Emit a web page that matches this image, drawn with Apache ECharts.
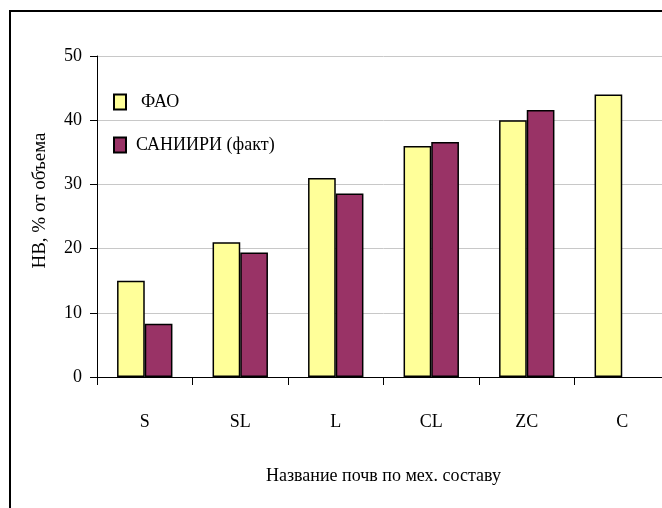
<!DOCTYPE html>
<html>
<head>
<meta charset="utf-8">
<style>
  html, body { margin: 0; padding: 0; background: #fff; overflow: hidden; width: 662px; height: 508px; }
  /* the drawing is a little wider than the window; its right edge is clipped */
  #chart { width: 670px; height: 508px; }
</style>
<script src="https://cdn.jsdelivr.net/npm/echarts@6/dist/echarts.min.js"></script>
</head>
<body>
<div id="chart"></div>
<script>
// Soil texture classes
const categories = ['S', 'SL', 'L', 'CL', 'ZC', 'C'];
// Field capacity (НВ), % of volume
const faoValues = [15, 21, 31, 36, 40, 44];
const saniiriValues = [8.3, 19.4, 28.6, 36.6, 41.6, null];
const seriesNames = ['ФАО', 'САНИИРИ (факт)'];
const yTicks = { min: 0, max: 50, interval: 10 };

const serif = '"Liberation Serif", "Times New Roman", serif';
const chart = echarts.init(document.getElementById('chart'), null, { renderer: 'canvas' });

const barStyle = (color) => ({
  color: color,
  borderColor: '#000',
  borderWidth: 1.5
});

chart.setOption({
  animation: false,
  backgroundColor: '#fff',
  textStyle: { fontFamily: serif },
  graphic: [{
    type: 'rect',
    shape: { x: 10, y: 11, width: 700, height: 600 },
    style: { fill: 'none', stroke: '#000', lineWidth: 2 },
    silent: true
  }],
  legend: {
    orient: 'vertical',
    left: 108,
    top: 88,
    icon: 'rect',
    itemWidth: 12,
    itemHeight: 15,
    itemGap: 25,
    textStyle: { fontFamily: serif, fontSize: 18, color: '#000' },
    data: [
      { name: seriesNames[0], textStyle: { padding: [0, 0, 0, 10] } },
      { name: seriesNames[1], textStyle: { padding: [0, 0, 0, 5] } }
    ]
  },
  grid: { left: 97, right: 0, top: 56, bottom: 131, containLabel: false },
  xAxis: {
    type: 'category',
    data: categories,
    boundaryGap: true,
    name: 'Название почв по мех. составу',
    nameLocation: 'middle',
    nameGap: 90,
    nameTextStyle: { fontFamily: serif, fontSize: 18, color: '#000' },
    axisLine: { lineStyle: { color: '#000', width: 1 } },
    axisTick: { show: true, length: 8, alignWithLabel: false, lineStyle: { color: '#000' } },
    axisLabel: { margin: 36, fontFamily: serif, fontSize: 18, color: '#000' },
    splitLine: { show: false }
  },
  yAxis: {
    type: 'value',
    min: yTicks.min,
    max: yTicks.max,
    interval: yTicks.interval,
    name: 'НВ, % от объема',
    nameLocation: 'middle',
    nameGap: 47,
    nameTextStyle: { fontFamily: serif, fontSize: 19, color: '#000', padding: [0, 0, 0, 32] },
    axisLine: { show: true, lineStyle: { color: '#000', width: 1 } },
    axisTick: { show: true, length: 7, inside: false, lineStyle: { color: '#000' } },
    axisLabel: { margin: 15, fontFamily: serif, fontSize: 18, color: '#000' },
    splitLine: { show: true, lineStyle: { color: '#c8c8c8', width: 1 } }
  },
  series: [
    {
      name: seriesNames[0],
      type: 'bar',
      data: faoValues,
      barGap: '0%',
      barCategoryGap: '42%',
      itemStyle: barStyle('#FFFF99')
    },
    {
      name: seriesNames[1],
      type: 'bar',
      data: saniiriValues,
      barGap: '0%',
      barCategoryGap: '42%',
      itemStyle: barStyle('#993366')
    }
  ]
});
</script>
</body>
</html>
